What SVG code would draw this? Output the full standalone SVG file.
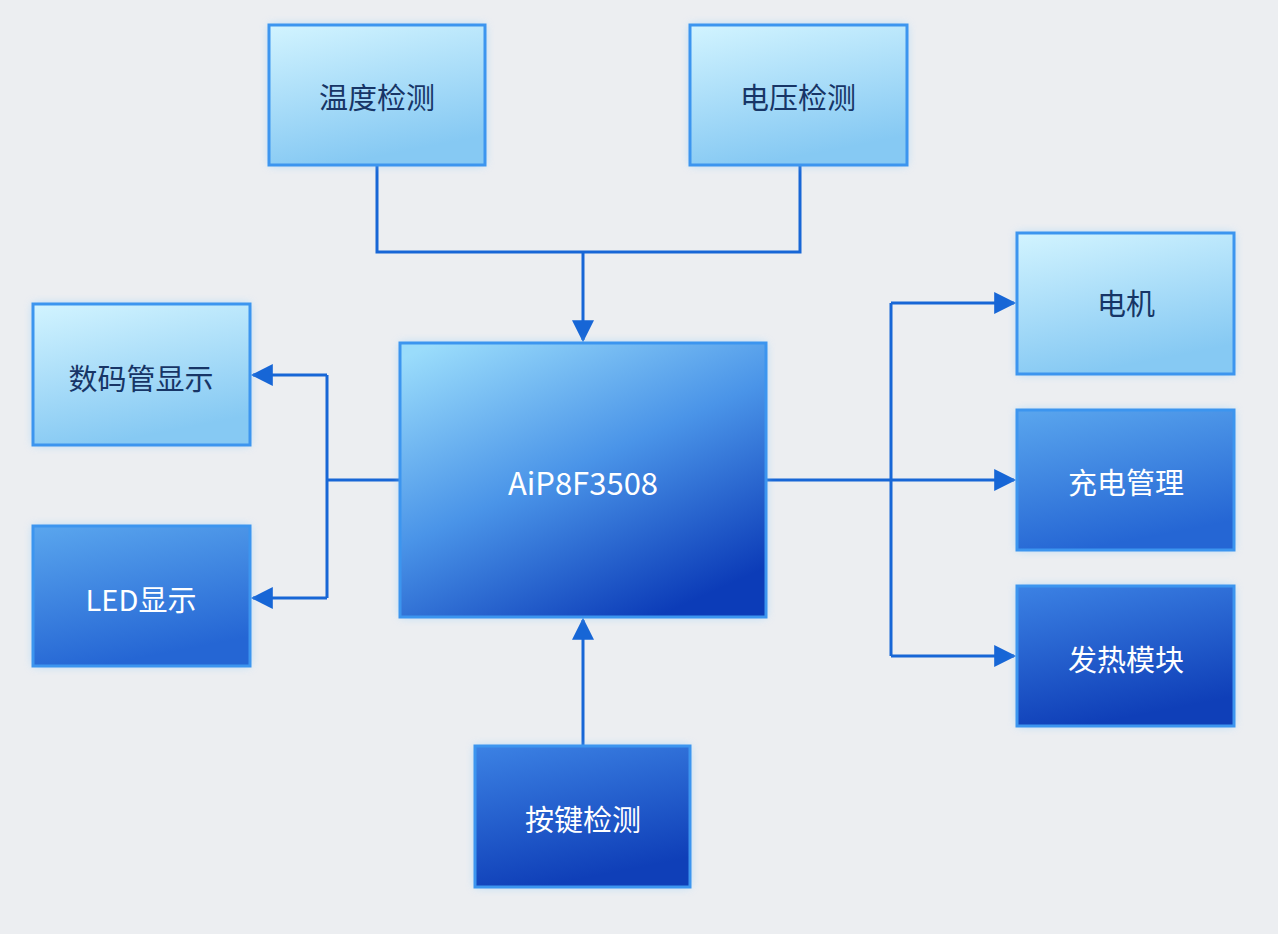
<svg xmlns="http://www.w3.org/2000/svg" width="1278" height="934" viewBox="0 0 1278 934">
<defs>
<linearGradient id="gLight" x1="0" y1="0" x2="0.3" y2="1"><stop offset="0" stop-color="#d2f4ff"/><stop offset="1" stop-color="#86c9f3"/></linearGradient>
<linearGradient id="gMid" x1="0" y1="0" x2="0.3" y2="1"><stop offset="0" stop-color="#5aa6ee"/><stop offset="1" stop-color="#2566d4"/></linearGradient>
<linearGradient id="gDark" x1="0" y1="0" x2="0.3" y2="1"><stop offset="0" stop-color="#3c82e4"/><stop offset="1" stop-color="#0f3fb8"/></linearGradient>
<linearGradient id="gMain" x1="0.1" y1="0" x2="0.7" y2="1"><stop offset="0" stop-color="#9adcfb"/><stop offset="0.5" stop-color="#4a94e8"/><stop offset="1" stop-color="#0c3cb8"/></linearGradient>
<filter id="glow" x="-20%" y="-20%" width="140%" height="140%"><feGaussianBlur stdDeviation="5"/></filter>
<marker id="arr" viewBox="0 0 10 10" refX="9" refY="5" markerWidth="26" markerHeight="22" markerUnits="userSpaceOnUse" orient="auto"><path d="M0,0 L10,5 L0,10 z" fill="#1766d6"/></marker>
</defs>
<style>
.box{stroke:#3c95ef;stroke-width:3}
.halo{fill:#7cc4ff;opacity:0.55;filter:url(#glow)}
.t{font-family:"Noto Sans CJK SC","Noto Sans",sans-serif;font-size:29px;font-weight:400;text-anchor:middle;dominant-baseline:central}
.dk{fill:#173566}.wh{fill:#ffffff}
.c{fill:none;stroke:#1766d6;stroke-width:3}
</style>
<rect width="1278" height="934" fill="#eceef1"/>
<g id="connectors">
<path class="c" d="M377,165 V252 H800 V165"/>
<path class="c" d="M583,252 V340" marker-end="url(#arr)"/>
<path class="c" d="M400,480 H327 M327,375 V598"/>
<path class="c" d="M327,375 H253" marker-end="url(#arr)"/>
<path class="c" d="M327,598 H253" marker-end="url(#arr)"/>
<path class="c" d="M766,480 H1014" marker-end="url(#arr)"/>
<path class="c" d="M891,303 V656"/>
<path class="c" d="M891,303 H1014" marker-end="url(#arr)"/>
<path class="c" d="M891,656 H1014" marker-end="url(#arr)"/>
<path class="c" d="M583,746 V620" marker-end="url(#arr)"/>
</g>
<g id="n_temp"><rect class="halo" x="269" y="25" width="216" height="140"/><rect class="box" x="269" y="25" width="216" height="140" fill="url(#gLight)"/><text class="t dk" x="377" y="96">温度检测</text></g>
<g id="n_volt"><rect class="halo" x="690" y="25" width="217" height="140"/><rect class="box" x="690" y="25" width="217" height="140" fill="url(#gLight)"/><text class="t dk" x="798" y="96">电压检测</text></g>
<g id="n_seg"><rect class="halo" x="33" y="304" width="217" height="141"/><rect class="box" x="33" y="304" width="217" height="141" fill="url(#gLight)"/><text class="t dk" x="141" y="377">数码管显示</text></g>
<g id="n_led"><rect class="halo" x="33" y="526" width="217" height="140"/><rect class="box" x="33" y="526" width="217" height="140" fill="url(#gMid)"/><text class="t wh" x="141" y="598">LED显示</text></g>
<g id="n_mcu"><rect class="halo" x="400" y="343" width="366" height="274"/><rect class="box" x="400" y="343" width="366" height="274" fill="url(#gMain)"/><text class="t wh" x="583" y="481" style="font-size:31px">AiP8F3508</text></g>
<g id="n_key"><rect class="halo" x="475" y="746" width="215" height="141"/><rect class="box" x="475" y="746" width="215" height="141" fill="url(#gDark)"/><text class="t wh" x="583" y="818">按键检测</text></g>
<g id="n_motor"><rect class="halo" x="1017" y="233" width="217" height="141"/><rect class="box" x="1017" y="233" width="217" height="141" fill="url(#gLight)"/><text class="t dk" x="1126" y="302">电机</text></g>
<g id="n_charge"><rect class="halo" x="1017" y="410" width="217" height="140"/><rect class="box" x="1017" y="410" width="217" height="140" fill="url(#gMid)"/><text class="t wh" x="1126" y="481">充电管理</text></g>
<g id="n_heat"><rect class="halo" x="1017" y="586" width="217" height="140"/><rect class="box" x="1017" y="586" width="217" height="140" fill="url(#gDark)"/><text class="t wh" x="1126" y="658">发热模块</text></g>
</svg>
